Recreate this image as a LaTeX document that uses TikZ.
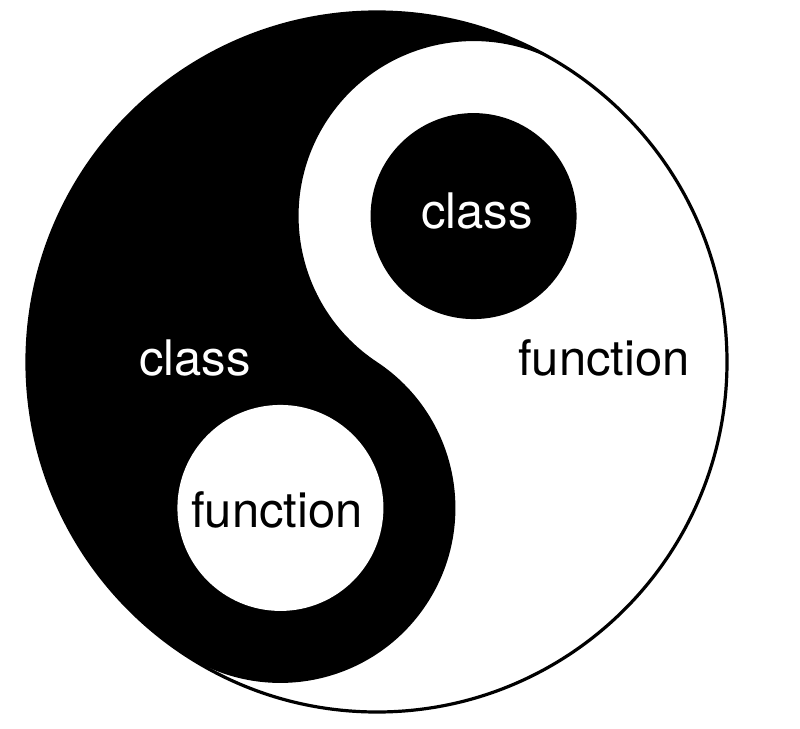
\documentclass[tikz,border=0pt]{standalone}
\usepackage{fontspec}
\setmainfont{TeX Gyre Heros}
\usepackage{tikz}

\begin{document}
\begin{tikzpicture}[x=1pt,y=1pt,
  onblack/.style={text=white, font=\fontsize{49}{57}\selectfont},
  onwhite/.style={text=black, font=\fontsize{49}{57}\selectfont}]
\fill[white] (-377,-366) rectangle (423,362);
\useasboundingbox (-377,-366) rectangle (423,362);
\coordinate (topdot) at (56.5:175);
\coordinate (botdot) at (236.5:175);
\fill[black] (56.5:350) arc[start angle=56.5, end angle=236.5, radius=350]
  arc[start angle=236.5, end angle=416.5, radius=175]
  arc[start angle=236.5, end angle=56.5, radius=175] -- cycle;
\fill[white] (botdot) circle (103);
\fill[black] (topdot) circle (103);
\draw[line width=3.2pt] (0,0) circle (350);
\node[onblack] (classtop) at (100,151) {class};
\node[onblack] (classleft) at (-182,4) {class};
\node[onwhite] (funcright) at (227,4) {function};
\node[onwhite] (funcbot) at (-100,-148) {function};
\end{tikzpicture}
\end{document}
